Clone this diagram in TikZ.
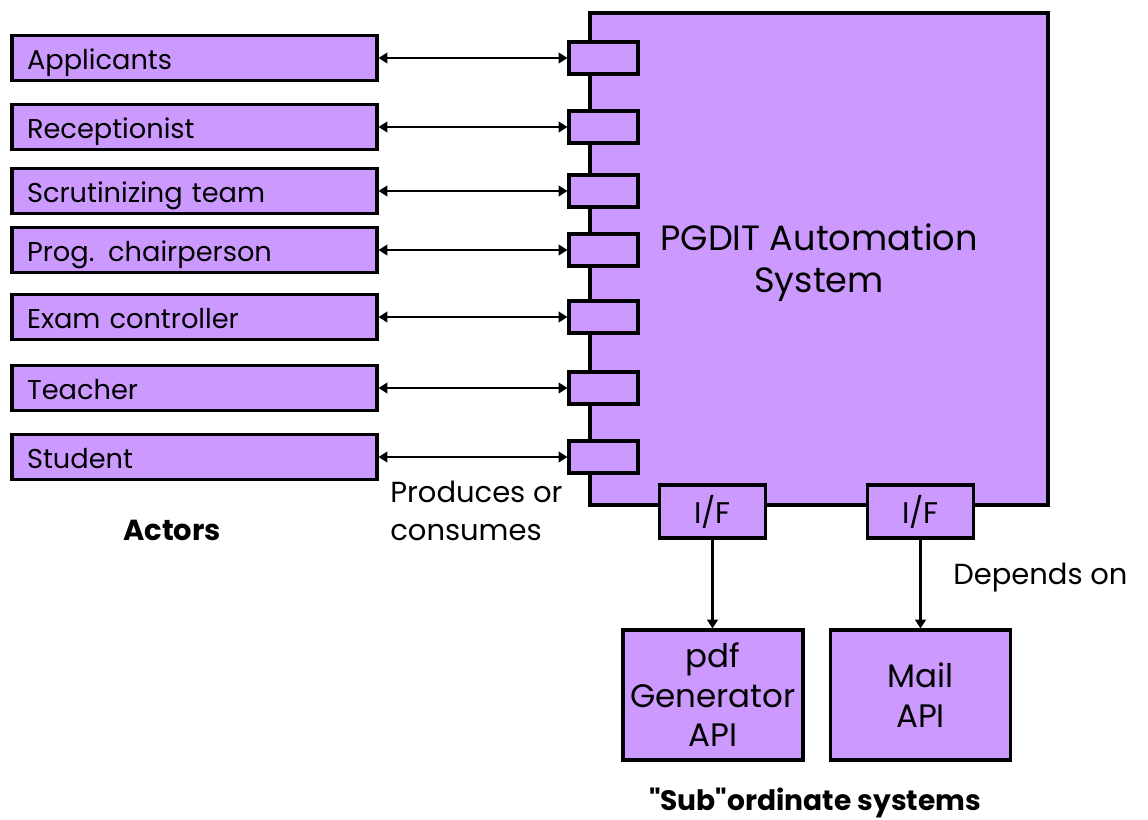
\documentclass[tikz,border=0pt]{standalone}
\usepackage{fontspec}
\setmainfont{Poppins}
\usetikzlibrary{
    positioning,
    arrows.meta
}
\definecolor{boxViolet}{RGB}{204, 153, 255}

\begin{document}
\begin{tikzpicture}[x=0.02cm, y=-0.02cm,
        box/.style={draw=black, line width=1.8pt, fill=boxViolet, inner sep=0pt},
        actor/.style={box, minimum width=7.3cm, minimum height=0.9cm,
            text width=6.7cm, text height=0.5cm, text depth=0.03cm,
            align=left, font=\fontsize{15.5}{18}\selectfont},
        port/.style={box, minimum width=1.38cm, minimum height=0.64cm},
        api/.style={box, minimum width=3.6cm, minimum height=2.6cm,
            align=center, font=\fontsize{18.5}{22.5}\selectfont},
        iface/.style={box, minimum width=2.12cm, minimum height=1.06cm,
            font=\fontsize{17}{18}\selectfont},
        link/.style={line width=1.5pt, {Triangle[length=5pt, width=6pt]}-{Triangle[length=5pt, width=6pt]}},
        dep/.style={line width=1.5pt, -{Triangle[length=5pt, width=6pt]}},
        caption/.style={inner sep=0pt, align=left, font=\fontsize{16.5}{21.5}\selectfont}
    ]
    \useasboundingbox (0,0) rectangle (1148,819);

    % the system itself
    \node[box, minimum width=9.16cm, minimum height=9.84cm] (system) at (819,259) {};
    \node[align=center, font=\fontsize{20}{24}\selectfont] (sysname) at (819,263) {PGDIT Automation\\System};

    % actors and their ports
    \foreach \nm/\yy/\txt in {appl/58/Applicants, recep/127/Receptionist,
            scrut/191/Scrutinizing team, chair/250/Prog. chairperson,
            exam/317/Exam controller, teach/388/Teacher, stud/457/Student} {
        \node[actor] (\nm) at (194.5,\yy) {\txt};
        \node[port] (\nm-port) at (603.5,\yy) {};
        \draw[link] (\nm) -- (\nm-port);
    }

    % interfaces and subordinate systems
    \node[iface] (ifpdf) at (712.5,511.5) {I/F};
    \node[iface] (ifmail) at (920.5,511.5) {I/F};
    \node[api] (pdfapi) at (713,695) {pdf\\Generator\\API};
    \node[api] (mailapi) at (920.5,695) {Mail\\API};
    \draw[dep] (ifpdf.south) -- (ifpdf.south |- pdfapi.north);
    \draw[dep] (ifmail.south) -- (ifmail.south |- mailapi.north);

    % captions
    \node[font=\bfseries\fontsize{16.5}{18}\selectfont] (actorslbl) at (172,530) {Actors};
    \node[caption, anchor=west] (prodlbl) at (390,511) {Produces or\\consumes};
    \node[caption, anchor=west] (deplbl) at (953,578) {Depends on};
    \node[font=\bfseries\fontsize{16}{18}\selectfont] (sublbl) at (815,803) {\textquotedbl Sub\textquotedbl ordinate systems};
\end{tikzpicture}
\end{document}
